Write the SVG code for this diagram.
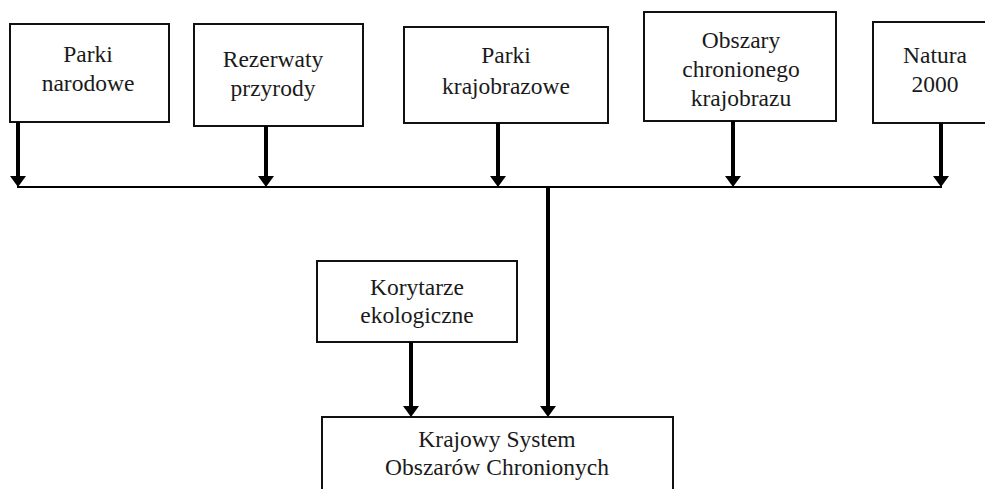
<svg xmlns="http://www.w3.org/2000/svg" width="985" height="489" viewBox="0 0 985 489">
  <style>
    .box { fill: #ffffff; stroke: #111111; stroke-width: 2; }
    .lbl { font-family: "Liberation Serif", "Times New Roman", serif; font-size: 23.5px; fill: #1a1a1a; text-anchor: middle; }
    .arrow { stroke: #000000; stroke-width: 4; fill: none; marker-end: url(#ah); }
    .bus { stroke: #000000; stroke-width: 2; fill: none; }
  </style>
  <defs>
    <marker id="ah" markerUnits="userSpaceOnUse" markerWidth="12" markerHeight="16" viewBox="0 0 12 16" refX="0" refY="8" orient="auto">
      <path d="M0,0 L11,8 L0,16 z" fill="#000000"/>
    </marker>
  </defs>
  <rect x="0" y="0" width="985" height="489" fill="#ffffff"/>

  <g id="parki-narodowe">
    <rect class="box" x="10" y="24" width="159" height="98"/>
    <text class="lbl" x="88" y="62">Parki</text>
    <text class="lbl" x="88" y="91">narodowe</text>
  </g>
  <g id="rezerwaty">
    <rect class="box" x="194" y="24" width="169" height="102"/>
    <text class="lbl" x="273" y="67">Rezerwaty</text>
    <text class="lbl" x="273" y="96">przyrody</text>
  </g>
  <g id="parki-krajobrazowe">
    <rect class="box" x="404" y="27" width="204" height="96"/>
    <text class="lbl" x="506" y="63">Parki</text>
    <text class="lbl" x="506" y="94">krajobrazowe</text>
  </g>
  <g id="obszary">
    <rect class="box" x="644" y="12" width="192" height="109"/>
    <text class="lbl" x="741" y="48">Obszary</text>
    <text class="lbl" x="741" y="77">chronionego</text>
    <text class="lbl" x="741" y="106">krajobrazu</text>
  </g>
  <g id="natura">
    <rect class="box" x="873" y="22" width="130" height="101"/>
    <text class="lbl" x="935" y="63">Natura</text>
    <text class="lbl" x="935" y="92">2000</text>
  </g>
  <g id="korytarze">
    <rect class="box" x="317" y="261" width="200" height="81"/>
    <text class="lbl" x="417" y="295">Korytarze</text>
    <text class="lbl" x="417" y="323">ekologiczne</text>
  </g>
  <g id="ksoch">
    <rect class="box" x="322" y="417" width="351" height="90"/>
    <text class="lbl" x="497" y="447">Krajowy System</text>
    <text class="lbl" x="497" y="475">Obszarów Chronionych</text>
  </g>

  <g id="connectors">
    <line class="bus" x1="17" y1="187" x2="942" y2="187"/>
    <line class="arrow" x1="18" y1="122" x2="18" y2="176"/>
    <line class="arrow" x1="266" y1="126" x2="266" y2="176"/>
    <line class="arrow" x1="498" y1="123" x2="498" y2="176"/>
    <line class="arrow" x1="733" y1="121" x2="733" y2="176"/>
    <line class="arrow" x1="941" y1="123" x2="941" y2="176"/>
    <line class="arrow" x1="548" y1="187" x2="548" y2="406"/>
    <line class="arrow" x1="411" y1="342" x2="411" y2="406"/>
  </g>
</svg>
